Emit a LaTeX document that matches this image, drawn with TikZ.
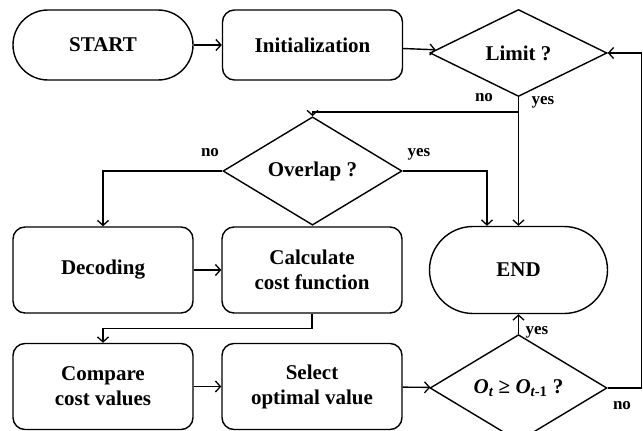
\documentclass[tikz,border=0pt]{standalone}
\usepackage{fontspec}
\setmainfont{Liberation Serif}
\usetikzlibrary{shapes.geometric,arrows.meta}
\begin{document}
\begin{tikzpicture}[x=1pt,y=1pt,
  every node/.style={font=\bfseries\fontsize{21}{25}\selectfont, align=center, inner sep=0pt},
  box/.style={draw, line width=1.4pt, rounded corners=12pt, minimum width=180pt, minimum height=86pt},
  terminal/.style={draw, line width=1.4pt, minimum width=178pt, minimum height=#1, rounded corners=#1/2},
  decision/.style={draw, line width=1.4pt, diamond, minimum width=177pt, minimum height=86pt},
  flow/.style={line width=1.4pt, -{Straight Barb[length=5pt,width=11pt,line width=1.3pt]}},
  tag/.style={font=\bfseries\fontsize{17}{20}\selectfont}
]
\useasboundingbox (0,0) rectangle (643,-431);

% top row
\node[terminal=70pt, minimum width=180pt] (start) at (103,-45) {START};
\node[box, minimum height=70pt] (init) at (312.5,-45) {Initialization};
\node[decision, minimum height=87pt] (limit) at (518.5,-53) {Limit ?};

% overlap test
\node[decision, minimum width=179pt, minimum height=84pt] (overlap) at (312.5,-171) {Overlap ?};

% middle row
\node[box] (decode) at (103,-270) {Decoding};
\node[box] (calc) at (312,-270) {Calculate\\cost function};
\node[terminal=87pt] (end) at (518.5,-270) {END};

% bottom row
\node[box] (compare) at (103,-386.5) {Compare\\cost values};
\node[box] (select) at (312,-386.5) {Select\\optimal value};
\node[decision] (cond) at (518.5,-388) {{\itshape O}\textsubscript{\itshape t} ≥ {\itshape O}\textsubscript{{\itshape t}-1} ?};

% junctions
\coordinate (nojoin) at (518.5,-112);
\coordinate (yesdrop) at (487,-171);
\coordinate (back) at (641.5,-388);

% connectors
\draw[flow] (start) -- (init);
\draw[flow] (init) -- (limit);
\draw[flow] (limit.south) -- (end.north);
\draw[flow] (nojoin) -| (overlap.north);
\draw[flow] (overlap.west) -| (decode.north);
\draw[flow] (overlap.east) -- (yesdrop) -- (yesdrop |- end.north);
\draw[flow] (decode) -- (calc);
\draw[flow] (calc.south) -- ++(0,-15) -| (compare.north);
\draw[flow] (compare) -- (select);
\draw[flow] (select) -- (cond);
\draw[flow] (cond.north) -- (end.south);
\draw[flow] (cond.east) -- (back) |- (limit.east);

% branch labels
\node[tag] at (484,-98) {no};
\node[tag] at (543,-102) {yes};
\node[tag] at (210,-153) {no};
\node[tag] at (419,-154) {yes};
\node[tag] at (537,-332) {yes};
\node[tag] at (622,-406) {no};
\end{tikzpicture}
\end{document}
